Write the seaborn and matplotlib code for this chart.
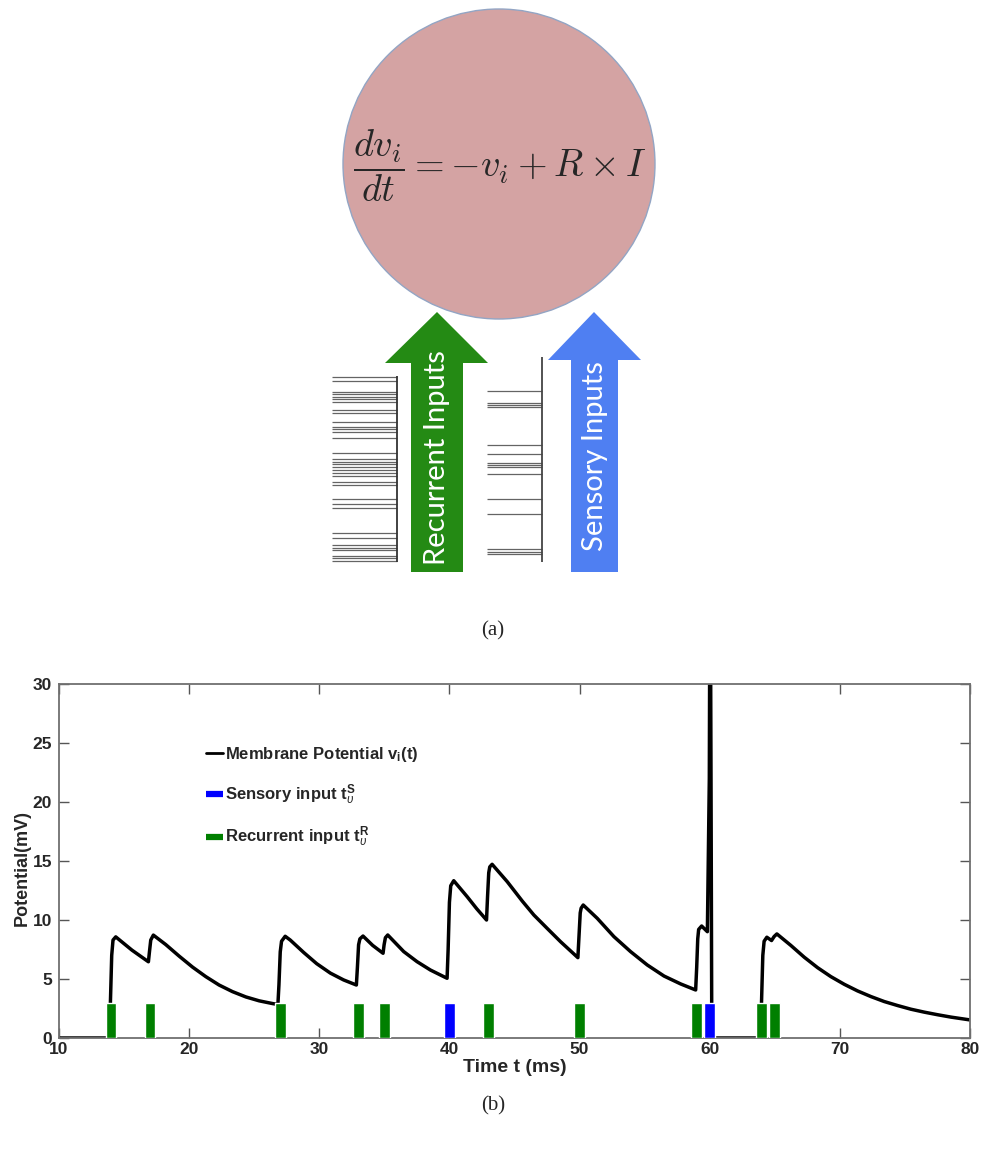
import pandas as pd
import seaborn as sns
import matplotlib.pyplot as plt
from matplotlib.patches import Ellipse, Polygon
from matplotlib.lines import Line2D

# membrane potential trace
time_ms = [10.0, 13.9, 13.95, 14.05, 14.15, 14.36, 15.6, 16.87, 16.95, 17.05, 17.25,
           18.2, 19.23, 20.26, 21.28, 22.3, 23.33, 24.36, 25.38, 26.4, 26.82,
           26.9, 27.0, 27.1, 27.38, 27.77, 28.8, 29.8, 30.85, 31.87, 32.85,
           32.93, 33.02, 33.12, 33.36, 34.1, 34.9, 34.98, 35.08, 35.26,
           36.49, 37.51, 38.54, 39.82, 39.9, 40.0, 40.1, 40.33, 41.36, 42.1, 42.85,
           42.93, 43.02, 43.1, 43.28, 44.44, 45.6, 46.49, 47.51, 48.54, 49.87,
           49.95, 50.05, 50.12, 50.28, 51.36, 52.64, 53.92, 55.2, 56.49, 57.77, 58.92,
           59.0, 59.08, 59.15, 59.38, 59.82, 59.97, 60.03, 60.1, 60.16,
           63.93, 63.98, 64.08, 64.18, 64.39, 64.75, 64.95, 65.16,
           66.24, 67.26, 68.29, 69.31, 70.34, 71.36, 72.39, 73.41, 74.44, 75.46,
           76.49, 77.52, 78.54, 79.95, 80.0]
potential_mv = [0.0, 0.0, 3.0, 7.0, 8.3, 8.57, 7.45, 6.46, 7.3, 8.3, 8.72,
                7.92, 6.94, 6.01, 5.2, 4.49, 3.93, 3.48, 3.15, 2.92, 2.84,
                4.5, 7.3, 8.2, 8.62, 8.3, 7.25, 6.3, 5.5, 4.92, 4.49,
                6.0, 7.9, 8.4, 8.64, 7.85, 7.18, 7.9, 8.5, 8.73,
                7.32, 6.47, 5.76, 5.06, 7.5, 11.5, 12.9, 13.33, 11.98, 10.95, 10.0,
                12.0, 14.0, 14.5, 14.72, 13.25, 11.6, 10.42, 9.29, 8.16, 6.81,
                8.5, 10.6, 11.0, 11.27, 10.14, 8.59, 7.32, 6.19, 5.25, 4.58, 4.07,
                6.0, 8.4, 9.2, 9.49, 9.01, 22.0, 45.0, 22.0, 0.0,
                0.0, 3.0, 7.0, 8.2, 8.54, 8.26, 8.6, 8.82,
                7.84, 6.85, 5.96, 5.2, 4.55, 3.99, 3.51, 3.09, 2.75, 2.44,
                2.19, 1.97, 1.77, 1.54, 1.53]

recurrent_times = [14, 17, 27, 33, 35, 43, 50, 59, 64, 65]
sensory_times = [40, 60]
input_height = 3

# raster rows in panel (a)
recurrent_raster = [376.7, 381, 391.7, 394, 396.7, 399.3, 401.7, 410, 413.3, 421.7,
                    426.7, 429.3, 431.7, 438.3, 453.3, 459.3, 461.7, 464.3, 466.7, 470,
                    473.3, 476, 481.7, 485, 499.3, 504.3, 508.3, 532.7, 538.3, 545,
                    547.7, 550, 556, 558.3, 560.7]
sensory_raster = [390.7, 402.7, 405, 406.7, 445, 454, 463.3, 465, 466.7, 474,
                  499.3, 514, 549.3, 551.7, 554]

sns.set_theme(style="ticks")
plt.rcParams.update({
    "font.family": ["Liberation Sans", "DejaVu Sans"],
    "mathtext.fontset": "custom",
    "mathtext.rm": "Liberation Sans",
    "mathtext.bf": "Liberation Sans:bold",
    "mathtext.it": "Liberation Sans:italic",
})

fig = plt.figure(figsize=(9.82, 11.52), dpi=100)

# panel (a): diagram drawn in pixel coordinates
ax0 = fig.add_axes([0, 0, 1, 1])
ax0.set_xlim(0, 982)
ax0.set_ylim(1152, 0)
ax0.axis("off")

ax0.add_patch(Ellipse((499, 164), 312, 310, facecolor="#d4a3a3",
                      edgecolor="#93a5c4", lw=1, zorder=3))
ax0.text(500, 166, r"$\dfrac{dv_i}{dt} = -v_i + R \times I$", math_fontfamily="cm",
         fontsize=27.5, ha="center", va="center", zorder=4)

green_arrow = [(411, 572), (463, 572), (463, 363), (488, 363), (437, 312),
               (385, 363), (411, 363)]
blue_arrow = [(571, 572), (618, 572), (618, 360), (641, 360), (594, 312),
              (548, 360), (571, 360)]
ax0.add_patch(Polygon(green_arrow, closed=True, facecolor="#248a14", edgecolor="none", zorder=2))
ax0.add_patch(Polygon(blue_arrow, closed=True, facecolor="#4f7ff2", edgecolor="none", zorder=2))
ax0.text(437, 458, "Recurrent Inputs", rotation=90, color="white", fontsize=21,
         family="Lato", ha="center", va="center", zorder=3)
ax0.text(595, 456, "Sensory Inputs", rotation=90, color="white", fontsize=21,
         family="Lato", ha="center", va="center", zorder=3)

ax0.hlines(recurrent_raster, 332, 397, color="#222222", lw=0.9, alpha=0.7)
ax0.vlines(397, 376, 562, color="#333333", lw=1.3)
ax0.hlines(sensory_raster, 487, 542, color="#222222", lw=0.9, alpha=0.7)
ax0.vlines(542, 357, 562, color="#444444", lw=1.3)

fig.text(493 / 982, 1 - 631 / 1152, "(a)", family="Liberation Serif", fontsize=15,
         ha="center", va="center")
fig.text(493 / 982, 1 - 1106 / 1152, "(b)", family="Liberation Serif", fontsize=15,
         ha="center", va="center")

# panel (b): membrane potential
ax = fig.add_axes([59 / 982, (1152 - 1038) / 1152, 911 / 982, 354 / 1152])
trace = pd.DataFrame({"t": time_ms, "v": potential_mv})
sns.lineplot(data=trace, x="t", y="v", ax=ax, color="black", lw=2.5,
             sort=False, estimator=None, zorder=2)
ax.bar(recurrent_times, input_height, width=0.82, color="#007f00", zorder=3)
ax.bar(sensory_times, input_height, width=0.82, color="#0000ff", zorder=3)

ax.set_xlim(10, 80)
ax.set_ylim(0, 30)
ax.set_xticks(range(10, 81, 10))
ax.set_yticks(range(0, 31, 5))
tick_font = {"family": ["Liberation Sans Narrow", "Liberation Sans"], "weight": "bold", "size": 12.5}
ax.set_xticklabels([str(x) for x in range(10, 81, 10)], fontdict=tick_font)
ax.set_yticklabels([str(y) for y in range(0, 31, 5)], fontdict=tick_font)
ax.tick_params(direction="in", top=True, right=True, length=7, width=1,
               color="#555555")
ax.tick_params(axis="x", pad=3)
ax.tick_params(axis="y", pad=5)
for s in ax.spines.values():
    s.set_color("#707070")
    s.set_linewidth(1.3)
ax.set_xlabel("Time t (ms)", fontdict={"family": ["Liberation Sans Narrow", "Liberation Sans"],
                                       "weight": "bold", "size": 14})
ax.xaxis.set_label_coords(0.5, -0.058)
ax.set_ylabel("Potential(mV)", fontweight="bold", fontsize=13)
ax.yaxis.set_label_coords(-0.031, 0.48)

handles = [Line2D([], [], color="black", lw=2),
           Line2D([], [], color="#0000ff", lw=4.5, solid_capstyle="butt"),
           Line2D([], [], color="#007f00", lw=4.5, solid_capstyle="butt")]
labels = [r"Membrane Potential v$_{\mathbf{i}}$(t)",
          r"Sensory input $\mathbf{t}_{\upsilon}^{\mathbf{S}}$",
          r"Recurrent input $\mathbf{t}_{\upsilon}^{\mathbf{R}}$"]
ax.legend(handles, labels, loc="upper left", bbox_to_anchor=(0.145, 0.87), frameon=False,
          handlelength=1.0, handletextpad=0.15, labelspacing=1.1,
          prop={"weight": "bold", "size": 12})

fig.savefig("out.png", dpi=100)
